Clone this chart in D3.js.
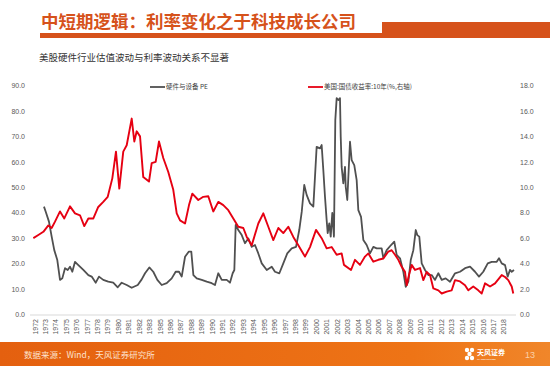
<!DOCTYPE html>
<html>
<head>
<meta charset="utf-8">
<script src="https://cdn.jsdelivr.net/npm/d3@7"></script>
<style>
  body { margin: 0; background: #fff; }
  text { font-family: "Liberation Sans", "Noto Sans CJK SC", sans-serif; }
  .cjk { font-family: "Noto Sans CJK SC", sans-serif; }
</style>
</head>
<body>
<script>
var yearLabels = ["1972","1973","1974","1975","1976","1977","1978","1979","1980","1981","1982","1983",
  "1985","1986","1987","1988","1989","1990","1991","1992","1993","1994","1995","1996","1997","1998",
  "1999","2000","2001","2002","2003","2004","2005","2006","2007","2008","2009","2010","2011","2012",
  "2013","2014","2015","2016","2017","2018"];

var leftTicks = [0,10,20,30,40,50,60,70,80,90];
var rightTicks = [0,2,4,6,8,10,12,14,16,18];

// [position on label axis, value]
var peData = [
  [0.86,42.4],[1.03,40.4],[1.34,36.5],[1.60,30.6],[1.85,25.3],[2.14,21.4],[2.40,13.6],[2.62,14.2],
  [2.88,18.2],[3.14,17.5],[3.36,18.8],[3.58,16.8],[3.84,20.7],[4.16,19.4],[4.64,17.5],[5.12,15.5],
  [5.44,14.9],[5.83,12.5],[6.14,14.9],[6.55,13.6],[7.03,12.9],[7.51,12.5],[7.94,10.7],[8.32,12.5],
  [8.80,11.6],[9.28,10.5],[9.86,11.6],[10.24,13.8],[10.56,16.2],[10.97,18.5],[11.35,16.8],[11.74,13.6],
  [12.16,11.6],[12.64,12.3],[13.12,14.2],[13.50,16.8],[13.82,16.8],[14.08,14.9],[14.40,22.7],[14.75,24.7],
  [15.00,24.7],[15.2,15.5],[15.52,14.2],[16.0,13.6],[16.48,12.9],[16.96,12.3],[17.27,11.6],[17.59,16.2],
  [17.92,13.6],[18.40,13.6],[18.71,12.5],[18.97,16.2],[19.13,17.5],[19.26,35.2],[19.51,33.2],[19.84,31.2],
  [20.15,28.0],[20.47,29.9],[20.80,26.6],[21.11,27.3],[21.43,24.0],[21.76,20.1],[22.24,17.5],[22.72,18.8],
  [23.03,16.8],[23.45,16.2],[23.83,20.1],[24.21,24.0],[24.64,26.0],[25.05,26.6],[25.36,33.2],[25.60,40.4],
  [25.84,50.9],[26.07,47.0],[26.39,43.7],[26.71,42.4],[26.87,54.1],[27.03,65.9],[27.35,65.3],[27.51,66.6],
  [27.67,56.8],[27.83,46.3],[27.99,37.1],[28.09,32.0],[28.24,35.8],[28.38,30.6],[28.53,39.9],[28.69,30.6],
  [28.82,76.4],[28.95,85.0],[29.11,84.3],[29.27,85.0],[29.34,69.9],[29.43,58.0],[29.59,51.5],[29.75,58.0],
  [29.82,50.2],[29.97,45.0],[30.23,67.9],[30.39,60.7],[30.64,58.7],[30.87,52.8],[31.03,41.0],[31.29,38.4],
  [31.51,29.3],[31.83,27.3],[32.15,24.0],[32.47,26.6],[32.79,26.0],[33.27,26.0],[33.43,22.1],[33.75,25.3],
  [34.17,27.3],[34.48,28.6],[34.71,23.4],[35.03,22.1],[35.35,16.8],[35.58,10.9],[35.83,12.9],[36.06,21.4],
  [36.31,25.3],[36.54,33.2],[36.69,31.2],[36.88,30.6],[37.11,20.1],[37.43,17.5],[37.75,15.5],[38.07,15.5],
  [38.39,13.6],[38.71,16.2],[39.03,13.6],[39.41,14.2],[39.83,12.9],[40.31,16.2],[40.79,16.8],[41.27,18.2],
  [41.75,18.8],[42.23,16.8],[42.61,14.9],[43.02,16.8],[43.45,20.1],[43.83,20.7],[44.31,20.7],[44.53,22.1],
  [44.79,20.1],[45.11,19.4],[45.36,14.9],[45.58,17.5],[45.75,16.8],[45.97,17.5]
];

var yieldData = [
  [-0.16,6.0],[0.32,6.25],[0.80,6.5],[1.28,7.0],[1.60,6.8],[1.92,7.3],[2.40,8.1],[2.81,7.55],
  [3.36,8.5],[3.84,7.95],[4.32,7.8],[4.73,6.95],[5.12,7.55],[5.60,7.55],[6.07,8.45],[6.55,8.85],
  [6.98,9.25],[7.42,10.7],[7.77,12.8],[8.09,9.9],[8.47,12.8],[8.80,13.3],[9.28,15.4],[9.53,13.6],
  [9.76,14.4],[10.08,14.0],[10.39,10.8],[10.94,10.45],[11.20,11.9],[11.58,12.0],[11.90,13.6],[12.31,12.3],
  [12.79,11.2],[13.27,9.8],[13.60,7.95],[13.92,7.4],[14.40,7.15],[14.78,8.6],[15.10,9.5],[15.67,9.0],
  [16.15,9.25],[16.63,9.3],[17.11,8.1],[17.59,8.85],[18.07,8.6],[18.55,8.2],[19.03,7.55],[19.51,6.9],
  [19.99,6.8],[20.32,6.1],[20.80,5.45],[21.43,7.15],[21.91,7.95],[22.39,6.9],[22.87,5.85],[23.35,6.8],
  [23.83,6.4],[24.31,6.9],[24.79,6.1],[25.27,5.45],[25.91,4.55],[26.39,5.3],[26.97,6.65],[27.51,6.0],
  [27.99,5.2],[28.47,5.3],[28.95,4.7],[29.43,4.8],[29.65,3.9],[30.33,3.5],[30.71,4.3],[31.19,3.9],
  [31.67,4.55],[31.99,4.8],[32.47,4.15],[32.95,4.3],[33.43,4.4],[33.91,4.95],[34.23,5.05],[34.55,4.7],
  [34.87,4.3],[35.19,3.75],[35.51,3.35],[35.67,2.3],[35.89,3.1],[36.15,3.9],[36.47,3.5],[36.95,3.65],
  [37.27,2.7],[37.59,3.35],[37.91,3.1],[38.23,2.05],[38.71,1.9],[39.03,1.65],[39.51,1.8],[39.99,1.9],
  [40.31,2.7],[40.79,2.6],[41.27,2.3],[41.58,1.9],[42.06,2.2],[42.54,1.9],[42.87,1.65],[43.19,2.45],
  [43.67,2.2],[44.15,2.45],[44.79,3.1],[45.11,2.95],[45.42,2.7],[45.75,2.2],[45.90,1.65]
];

var width = 550, height = 366;
var orange = "#d6521b";

var svg = d3.select("body").append("svg")
  .attr("width", width)
  .attr("height", height);

// header
svg.append("text").attr("class", "cjk")
  .attr("x", 41).attr("y", 28)
  .attr("font-size", 17.5).attr("font-weight", 700)
  .attr("fill", orange)
  .text("中短期逻辑：利率变化之于科技成长公司");
svg.append("rect").attr("x", 40).attr("y", 33).attr("width", 345).attr("height", 5).attr("fill", orange);
svg.append("rect").attr("x", 382).attr("y", 22).attr("width", 168).attr("height", 16).attr("fill", orange);

svg.append("text").attr("class", "cjk")
  .attr("x", 39).attr("y", 61)
  .attr("font-size", 9.5).attr("fill", "#333")
  .text("美股硬件行业估值波动与利率波动关系不显著");

// scales
var x = d3.scaleLinear().domain([0, 45]).range([35, 35 + 45 * 10.42]);
var yL = d3.scaleLinear().domain([0, 90]).range([314.5, 85.5]);
var yR = d3.scaleLinear().domain([0, 18]).range([314.5, 85.5]);

var leftAxis = d3.axisLeft(yL).tickValues(leftTicks).tickFormat(d3.format(".1f")).tickSize(0).tickPadding(0);
var rightAxis = d3.axisRight(yR).tickValues(rightTicks).tickFormat(d3.format(".1f")).tickSize(0).tickPadding(0);

var gl = svg.append("g").attr("transform", "translate(25,0)").call(leftAxis);
var gr = svg.append("g").attr("transform", "translate(520,0)").call(rightAxis);
[gl, gr].forEach(function(g){
  g.select(".domain").remove();
  g.selectAll("text").attr("font-size", 7).attr("fill", "#595959")
    .attr("font-family", "Liberation Sans, sans-serif");
});

// x axis line + labels
svg.append("line")
  .attr("x1", 30).attr("x2", 516)
  .attr("y1", yL(0) + 0.5).attr("y2", yL(0) + 0.5)
  .attr("stroke", "#d9d9d9").attr("stroke-width", 1);

svg.append("g").selectAll("text")
  .data(yearLabels)
  .join("text")
  .attr("transform", function(d, i){
    return "translate(" + (x(i) + 2.5) + "," + 319 + ") rotate(-90)";
  })
  .attr("text-anchor", "end")
  .attr("font-size", 7)
  .attr("fill", "#595959")
  .text(function(d){ return d; });

// lines
var linePE = d3.line().x(function(d){ return x(d[0]); }).y(function(d){ return yL(d[1]); });
var lineY = d3.line().x(function(d){ return x(d[0]); }).y(function(d){ return yR(d[1]); });

svg.append("path").datum(peData)
  .attr("d", linePE)
  .attr("fill", "none").attr("stroke", "#505050").attr("stroke-width", 1.8)
  .attr("stroke-linejoin", "round");

svg.append("path").datum(yieldData)
  .attr("d", lineY)
  .attr("fill", "none").attr("stroke", "#e60012").attr("stroke-width", 1.9)
  .attr("stroke-linejoin", "round");

// legend
var legend = [
  {name: "硬件与设备 PE", color: "#505050", x: 150},
  {name: "美国:国债收益率:10年(%,右轴)", color: "#e60012", x: 308}
];
var lg = svg.append("g").selectAll("g").data(legend).join("g")
  .attr("transform", function(d){ return "translate(" + d.x + ",87)"; });
lg.append("line").attr("x1", 0).attr("x2", 15).attr("y1", 0).attr("y2", 0)
  .attr("stroke", function(d){ return d.color; }).attr("stroke-width", 1.8);
lg.append("text").attr("class", "cjk").attr("x", 16).attr("y", 2.4)
  .attr("font-size", 6.5).attr("fill", "#404040")
  .text(function(d){ return d.name; });

// footer
var grad = svg.append("defs").append("linearGradient").attr("id", "foot");
grad.append("stop").attr("offset", "0%").attr("stop-color", "#e4600f");
grad.append("stop").attr("offset", "75%").attr("stop-color", "#ee7416");
grad.append("stop").attr("offset", "100%").attr("stop-color", "#f0862a");
svg.append("rect").attr("x", 0).attr("y", 342).attr("width", width).attr("height", 24).attr("fill", "url(#foot)");

svg.append("text").attr("class", "cjk")
  .attr("x", 24).attr("y", 357.5)
  .attr("font-size", 8.5).attr("fill", "#fde2cf")
  .text("数据来源：Wind，天风证券研究所");

// logo
var logo = svg.append("g").attr("transform", "translate(467,354)");
[[0,-4],[5,-4],[2.5,0],[0,4],[5,4]].forEach(function(p){
  logo.append("circle").attr("cx", p[0]).attr("cy", p[1]).attr("r", 2.2).attr("fill", "#fff");
});
logo.append("text").attr("class", "cjk").attr("x", 10).attr("y", 1)
  .attr("font-size", 7).attr("font-weight", 700).attr("fill", "#fff").text("天风证券");
logo.append("text").attr("x", 10).attr("y", 6)
  .attr("font-size", 2.5).attr("fill", "#fff").text("TF SECURITIES");

svg.append("text").attr("x", 530).attr("y", 358)
  .attr("text-anchor", "middle")
  .attr("font-size", 9).attr("fill", "#fbd0a8")
  .text("13");
</script>
</body>
</html>
